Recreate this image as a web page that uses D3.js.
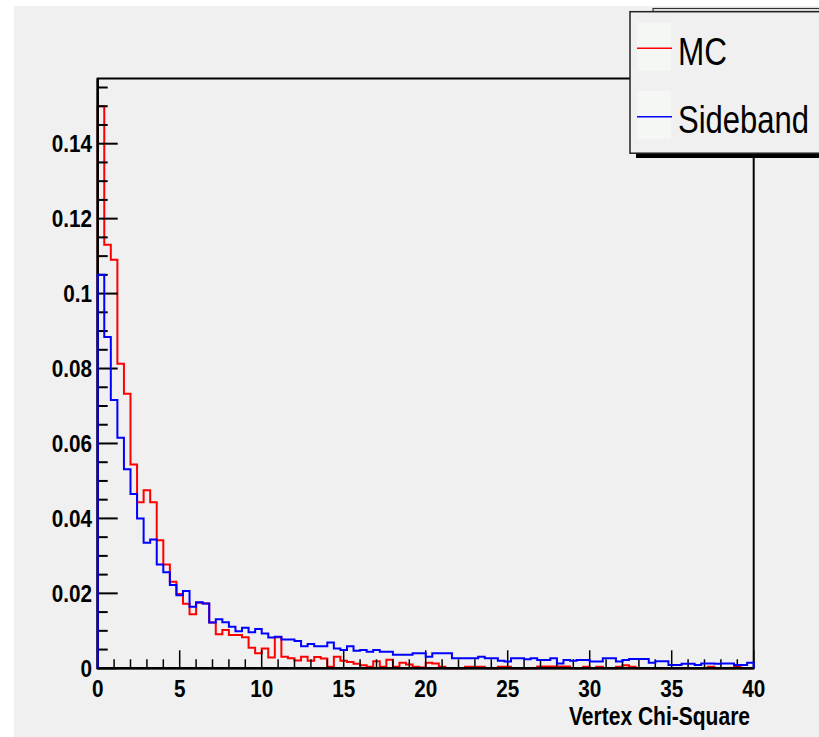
<!DOCTYPE html>
<html>
<head>
<meta charset="utf-8">
<script src="https://cdn.jsdelivr.net/npm/d3@7"></script>
<style>
  body { margin: 0; background: #fff; }
  svg { display: block; }
  text { font-family: "Liberation Sans", Arial, sans-serif; }
</style>
</head>
<body>
<script>
// histogram contents, 100 bins of 0.4 from 0 to 40
const mcValues = [
  0.150, 0.113, 0.109, 0.0813, 0.0733, 0.0544, 0.0443, 0.0475, 0.0443, 0.0342,
  0.0277, 0.0231, 0.0198, 0.0172, 0.0144, 0.0175, 0.0173, 0.0122, 0.0091, 0.0102,
  0.0089, 0.0089, 0.0083, 0.0055, 0.0040, 0.0053, 0.0029, 0.0083, 0.0031, 0.0027,
  0.0021, 0.0031, 0.0020, 0.0030, 0.0026, 0.0004, 0.0031, 0.0020, 0.0017, 0.0012,
  0.0008, 0.0004, 0.0019, 0.0004, 0.0023, 0.0004, 0.0015, 0.0010, 0.0004, 0.0002,
  0.0015, 0.0013, 0.0004, 0, 0, 0, 0.0004, 0.0004, 0.0004, 0,
  0, 0.0004, 0.0004, 0, 0, 0, 0, 0.0005, 0.0005, 0.0005,
  0.0005, 0.0005, 0, 0, 0.0004, 0, 0.0004, 0, 0, 0.0004,
  0.0008, 0.0004, 0, 0, 0, 0, 0, 0, 0, 0,
  0, 0, 0, 0.0004, 0, 0, 0, 0.0004, 0, 0
];
const sidebandValues = [
  0.105, 0.0884, 0.0716, 0.0615, 0.0531, 0.0465, 0.0400, 0.0335, 0.0344, 0.0277,
  0.0256, 0.0222, 0.0195, 0.0206, 0.0164, 0.0176, 0.0173, 0.0122, 0.0131, 0.0123,
  0.0111, 0.0099, 0.0108, 0.0096, 0.0105, 0.0093, 0.0082, 0.0084, 0.0077, 0.0077,
  0.0073, 0.0059, 0.0065, 0.0059, 0.0059, 0.0069, 0.0053, 0.0049, 0.0059, 0.0047,
  0.0049, 0.0044, 0.0049, 0.0044, 0.0044, 0.0036, 0.0036, 0.0036, 0.0040, 0.0040,
  0.0031, 0.0040, 0.0040, 0.0040, 0.0027, 0.0027, 0.0027, 0.0027, 0.0031, 0.0027,
  0.0027, 0.0020, 0.0018, 0.0027, 0.0027, 0.0024, 0.0027, 0.0022, 0.0022, 0.0027,
  0.0013, 0.0022, 0.0020, 0.0022, 0.0022, 0.0018, 0.0018, 0.0027, 0.0027, 0.0018,
  0.0022, 0.0025, 0.0025, 0.0025, 0.0015, 0.0019, 0.0019, 0.0009, 0.0009, 0.0012,
  0.0012, 0.0009, 0.0013, 0.0013, 0.0012, 0.0013, 0.0013, 0.0009, 0.0009, 0.0015
];
const binWidth = 0.4;
const yTickValues = [0, 0.02, 0.04, 0.06, 0.08, 0.1, 0.12, 0.14];
const yTickLabels = ['0', '0.02', '0.04', '0.06', '0.08', '0.1', '0.12', '0.14'];
const xTickValues = [0, 5, 10, 15, 20, 25, 30, 35, 40];
const xTickLabels = ['0', '5', '10', '15', '20', '25', '30', '35', '40'];
const legendNames = ['MC', 'Sideband'];
const seriesColors = ['#ff0000', '#0000ff'];

const width = 819, height = 737;

var svg = d3.select('body')
    .append('svg')
    .attr('width', width)
    .attr('height', height);

// canvas background
svg.append('rect')
    .attr('x', 14).attr('y', 6)
    .attr('width', width - 14).attr('height', height - 6)
    .attr('fill', '#f0f0f0');

var x = d3.scaleLinear().domain([0, 40]).range([97.7, 753.7]);
var y = d3.scaleLinear().domain([0, 0.1574]).range([668.3, 78.5]);

// histogram outline as a step path
function histPath(values) {
    var p = d3.path();
    p.moveTo(x(0), y(0));
    values.forEach(function(v, i) {
        p.lineTo(x(i * binWidth), y(v));
        p.lineTo(x((i + 1) * binWidth), y(v));
    });
    p.lineTo(x(40), y(0));
    return p.toString();
}

function drawHist(vals, color) {
    svg.append('path')
        .attr('d', histPath(vals))
        .attr('fill', 'none')
        .attr('stroke', color)
        .attr('stroke-width', 2);
}

// first histogram goes under the axes, like ROOT does it
drawHist(mcValues, seriesColors[0]);

// frame
svg.append('rect')
    .attr('x', x(0)).attr('y', y(0.1574))
    .attr('width', x(40) - x(0)).attr('height', y(0) - y(0.1574))
    .attr('fill', 'none')
    .attr('stroke', '#000')
    .attr('stroke-width', 2);

// y ticks (major 0.02, minor 0.005)
var yMinor = d3.range(0, 0.1574, 0.005);
svg.selectAll('.ytick')
    .data(yMinor)
    .join('line')
    .attr('class', 'ytick')
    .attr('x1', x(0))
    .attr('x2', (d, i) => x(0) + (i % 4 == 0 ? 20 : 10))
    .attr('y1', d => y(d)).attr('y2', d => y(d))
    .attr('stroke', '#000')
    .attr('stroke-width', 2);

// x ticks (major 5, minor 1)
svg.selectAll('.xtick')
    .data(d3.range(0, 41, 1))
    .join('line')
    .attr('class', 'xtick')
    .attr('x1', d => x(d)).attr('x2', d => x(d))
    .attr('y1', y(0))
    .attr('y2', d => y(0) - (d % 5 == 0 ? 18 : 9))
    .attr('stroke', '#000')
    .attr('stroke-width', 1.5);

// left and bottom axis lines, a bit heavier
svg.append('line')
    .attr('x1', x(0)).attr('x2', x(0))
    .attr('y1', y(0) + 1).attr('y2', y(0.1574))
    .attr('stroke', '#000').attr('stroke-width', 2.5);
svg.append('line')
    .attr('x1', x(0)).attr('x2', x(40))
    .attr('y1', y(0)).attr('y2', y(0))
    .attr('stroke', '#000').attr('stroke-width', 2.5);

// tick labels, slightly condensed like the original
svg.selectAll('.ylabel')
    .data(yTickValues)
    .join('text')
    .attr('class', 'ylabel')
    .attr('transform', d => 'translate(92,' + (y(d) + 8.5) + ') scale(0.9,1)')
    .attr('text-anchor', 'end')
    .attr('font-size', 23)
    .attr('font-weight', 'bold')
    .text((d, i) => yTickLabels[i]);

svg.selectAll('.xlabel')
    .data(xTickValues)
    .join('text')
    .attr('class', 'xlabel')
    .attr('transform', d => 'translate(' + x(d) + ',697) scale(0.9,1)')
    .attr('text-anchor', 'middle')
    .attr('font-size', 23)
    .attr('font-weight', 'bold')
    .text((d, i) => xTickLabels[i]);

svg.append('text')
    .attr('x', 750)
    .attr('y', 725)
    .attr('text-anchor', 'end')
    .attr('font-size', 25)
    .attr('font-weight', 'bold')
    .attr('textLength', 181)
    .attr('lengthAdjust', 'spacingAndGlyphs')
    .text('Vertex Chi-Square');

// second histogram on top
drawHist(sidebandValues, seriesColors[1]);

// legend
svg.append('rect')
    .attr('x', 653).attr('y', 8.5)
    .attr('width', 170).attr('height', 3)
    .attr('fill', 'none').attr('stroke', '#333').attr('stroke-width', 1.2);
svg.append('rect')
    .attr('x', 636).attr('y', 153)
    .attr('width', 190).attr('height', 5)
    .attr('fill', '#000');
svg.append('rect')
    .attr('x', 630).attr('y', 11.7)
    .attr('width', 200).attr('height', 141.5)
    .attr('fill', '#f0f0f0')
    .attr('stroke', '#222').attr('stroke-width', 1.5);

var entry = svg.selectAll('.entry')
    .data(legendNames)
    .join('g')
    .attr('class', 'entry')
    .attr('transform', (d, i) => 'translate(0,' + (i * 68.4) + ')');

entry.append('rect')
    .attr('x', 637).attr('y', 22.7)
    .attr('width', 34).attr('height', 48)
    .attr('fill', '#f5f7f5');
entry.append('line')
    .attr('x1', 637).attr('x2', 672)
    .attr('y1', 48.3).attr('y2', 48.3)
    .attr('stroke', (d, i) => seriesColors[i])
    .attr('stroke-width', 1.5);
entry.append('text')
    .attr('x', 678)
    .attr('y', 65)
    .attr('font-size', 38)
    .attr('textLength', (d, i) => i == 0 ? 49 : 131)
    .attr('lengthAdjust', 'spacingAndGlyphs')
    .text(d => d);
</script>
</body>
</html>
